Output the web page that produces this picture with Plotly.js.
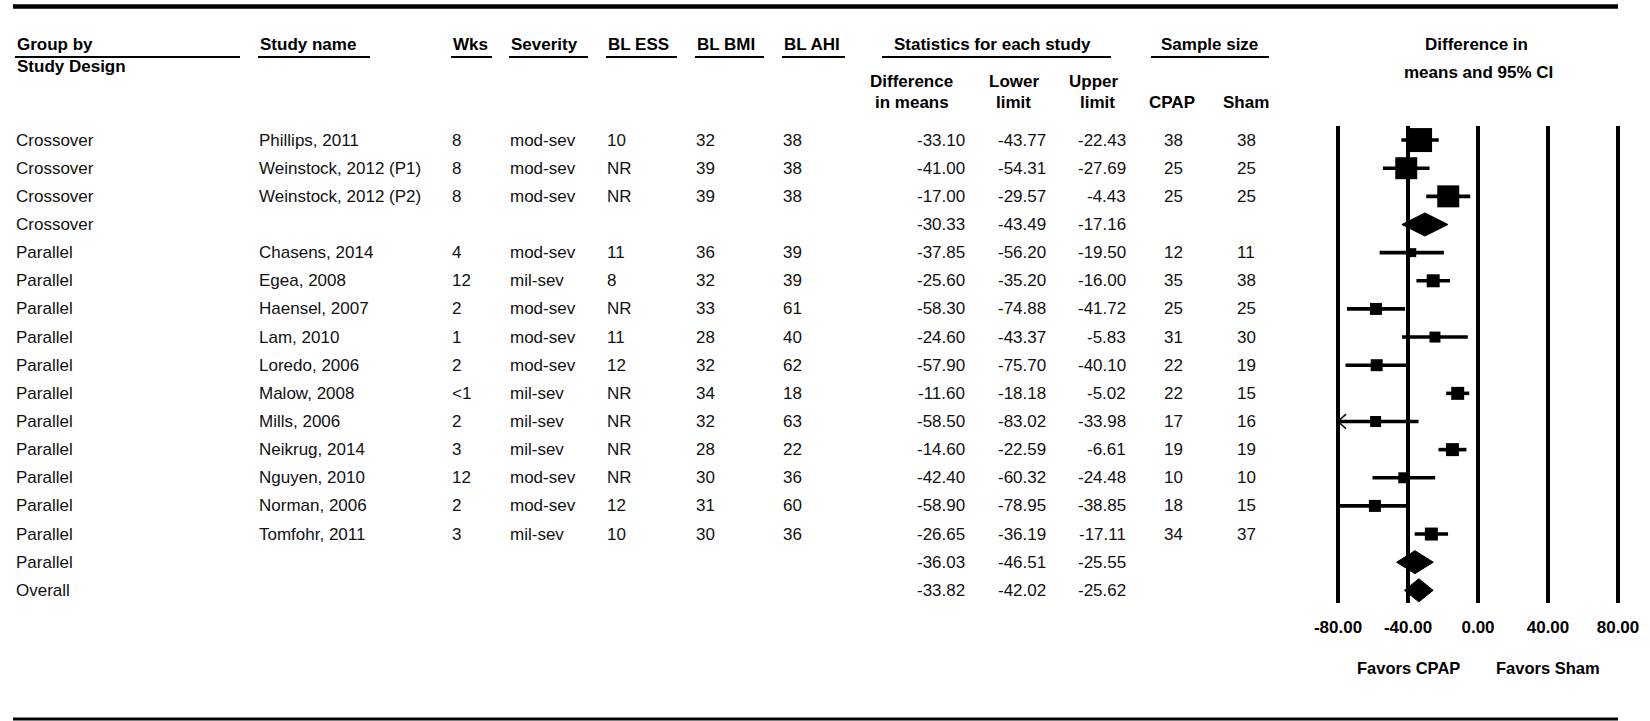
<!DOCTYPE html>
<html>
<head>
<meta charset="utf-8">
<script src="https://cdn.plot.ly/plotly-3.0.1.min.js"></script>
<style>html,body{margin:0;padding:0;background:#fff;}#chart{width:1650px;height:721px;}</style>
</head>
<body>
<div id="chart"></div>
<script>
// ---------- data ----------
const groups = ['Crossover','Crossover','Crossover','Crossover','Parallel','Parallel','Parallel','Parallel','Parallel','Parallel','Parallel','Parallel','Parallel','Parallel','Parallel','Parallel','Overall'];
const studies = ['Phillips, 2011','Weinstock, 2012 (P1)','Weinstock, 2012 (P2)','','Chasens, 2014','Egea, 2008','Haensel, 2007','Lam, 2010','Loredo, 2006','Malow, 2008','Mills, 2006','Neikrug, 2014','Nguyen, 2010','Norman, 2006','Tomfohr, 2011','',''];
const isSummary = [false,false,false,true,false,false,false,false,false,false,false,false,false,false,false,true,true];
const wks = ['8','8','8','','4','12','2','1','2','<1','2','3','12','2','3','',''];
const severity = ['mod-sev','mod-sev','mod-sev','','mod-sev','mil-sev','mod-sev','mod-sev','mod-sev','mil-sev','mil-sev','mil-sev','mod-sev','mod-sev','mil-sev','',''];
const blESS = ['10','NR','NR','','11','8','NR','11','12','NR','NR','NR','NR','12','10','',''];
const blBMI = ['32','39','39','','36','32','33','28','32','34','32','28','30','31','30','',''];
const blAHI = ['38','38','38','','39','39','61','40','62','18','63','22','36','60','36','',''];
const diffMeans = [-33.10,-41.00,-17.00,-30.33,-37.85,-25.60,-58.30,-24.60,-57.90,-11.60,-58.50,-14.60,-42.40,-58.90,-26.65,-36.03,-33.82];
const lowerLimit = [-43.77,-54.31,-29.57,-43.49,-56.20,-35.20,-74.88,-43.37,-75.70,-18.18,-83.02,-22.59,-60.32,-78.95,-36.19,-46.51,-42.02];
const upperLimit = [-22.43,-27.69,-4.43,-17.16,-19.50,-16.00,-41.72,-5.83,-40.10,-5.02,-33.98,-6.61,-24.48,-38.85,-17.11,-25.55,-25.62];
const nCPAP = ['38','25','25','','12','35','25','31','22','22','17','19','10','18','34','',''];
const nSham = ['38','25','25','','11','38','25','30','19','15','16','19','10','15','37','',''];
// relative weights (%) within subgroup, estimated from square areas
const weights = [37.3,31.3,31.3,null,5.2,10.9,9.3,7.8,9.3,10.9,7.8,10.9,7.8,9.3,10.9,null,null];
const tickVals = [-80,-40,0,40,80];
const tickLabels = ['-80.00','-40.00','0.00','40.00','80.00'];
const favorLabels = ['Favors CPAP','Favors Sham'];
const favorAt = [-40,40];

// ---------- layout helpers ----------
const W = 1650, H = 721;
const FONT = 'Liberation Sans, Arial, sans-serif';
const px = x => x / W;
const py = y => 1 - y / H;
const xMin = tickVals[0], xMax = tickVals[tickVals.length - 1];
const pad = 4.57;
const nRows = groups.length;

const annotations = [];
function txt(x, y, text, anchor, opts) {
  opts = opts || {};
  annotations.push({
    xref: opts.xref || 'paper', yref: opts.yref || 'paper',
    x: x, y: y, text: text, showarrow: false,
    xanchor: anchor, yanchor: 'middle',
    font: {family: FONT, size: opts.size || 17, color: opts.color || '#111'}
  });
}

// headers
const hdr = [
  [15, 45, 'Group by', 'left'], [15, 67, 'Study Design', 'left'],
  [258, 45, 'Study name', 'left'], [451, 45, 'Wks', 'left'],
  [509, 45, 'Severity', 'left'], [606, 45, 'BL ESS', 'left'],
  [695, 45, 'BL BMI', 'left'], [782, 45, 'BL AHI', 'left'],
  [892, 45, 'Statistics for each study', 'left'],
  [1209, 45, 'Sample size', 'center'],
  [911, 82, 'Difference', 'center'], [912, 103, 'in means', 'center'],
  [1014, 82, 'Lower', 'center'], [1014, 103, 'limit', 'center'],
  [1094, 82, 'Upper', 'center'], [1097, 103, 'limit', 'center'],
  [1172, 103, 'CPAP', 'center'], [1246, 103, 'Sham', 'center'],
  [1476, 45, 'Difference in', 'center'], [1478, 73, 'means and 95% CI', 'center']
];
hdr.forEach(h => txt(px(h[0]), py(h[1]), '<b>' + h[2] + '</b>', h[3], {color: '#000'}));

// table rows
for (let i = 0; i < nRows; i++) {
  const o = {yref: 'y'};
  txt(px(14), i, groups[i], 'left', o);
  if (studies[i]) txt(px(257), i, studies[i], 'left', o);
  if (wks[i]) txt(px(450), i, wks[i], 'left', o);
  if (severity[i]) txt(px(508), i, severity[i], 'left', o);
  if (blESS[i]) txt(px(605), i, blESS[i], 'left', o);
  if (blBMI[i]) txt(px(694), i, blBMI[i], 'left', o);
  if (blAHI[i]) txt(px(781), i, blAHI[i], 'left', o);
  txt(px(967), i, diffMeans[i].toFixed(2), 'right', o);
  txt(px(1048), i, lowerLimit[i].toFixed(2), 'right', o);
  txt(px(1128), i, upperLimit[i].toFixed(2), 'right', o);
  if (nCPAP[i]) txt(px(1173), i, nCPAP[i], 'center', o);
  if (nSham[i]) txt(px(1246), i, nSham[i], 'center', o);
}

// favors labels, tied to the axis
favorLabels.forEach((t, k) => txt(favorAt[k], py(668), '<b>' + t + '</b>', 'center', {xref: 'x', size: 16.5, color: '#000'}));

// ---------- shapes: rules ----------
const shapes = [];
function hline(x0, x1, y, w) {
  shapes.push({type: 'line', xref: 'paper', yref: 'paper', x0: px(x0), x1: px(x1), y0: py(y), y1: py(y), line: {color: '#000', width: w}});
}
hline(13, 1618, 6.5, 4.5);
hline(13, 1618, 719, 3);
[[15, 240], [258, 370], [451, 492], [509, 588], [606, 677], [695, 764], [782, 845], [882, 1111], [1151, 1269]]
  .forEach(u => hline(u[0], u[1], 57, 2));

// ---------- traces ----------
const traces = [];
const sx = [], sy = [], ss = [], ePlus = [], eMinus = [];
const arrows = [];
for (let i = 0; i < nRows; i++) {
  if (isSummary[i]) continue;
  const lo = Math.max(lowerLimit[i], xMin), hi = Math.min(upperLimit[i], xMax);
  sx.push(diffMeans[i]); sy.push(i);
  ss.push(3.93 * Math.sqrt(weights[i]));
  ePlus.push(hi - diffMeans[i]); eMinus.push(diffMeans[i] - lo);
  if (lowerLimit[i] < xMin) arrows.push(i);
}
traces.push({
  type: 'scatter', mode: 'markers', x: sx, y: sy, cliponaxis: false, hoverinfo: 'skip',
  marker: {symbol: 'square', size: ss, color: '#000', opacity: 1, line: {width: 0}},
  error_x: {type: 'data', symmetric: false, array: ePlus, arrayminus: eMinus, width: 0, thickness: 3.6, color: '#000'}
});
// clipped-CI arrow heads
arrows.forEach(i => {
  const a = 4.6, b = 0.26;
  traces.push({type: 'scatter', mode: 'lines', x: [xMin + a, xMin, xMin + a], y: [i - b, i, i + b],
    line: {color: '#000', width: 1.5}, cliponaxis: false, hoverinfo: 'skip'});
});
// summary diamonds
for (let i = 0; i < nRows; i++) {
  if (!isSummary[i]) continue;
  const h = 0.41;
  traces.push({type: 'scatter', mode: 'lines', fill: 'toself', fillcolor: '#000',
    x: [lowerLimit[i], diffMeans[i], upperLimit[i], diffMeans[i], lowerLimit[i]],
    y: [i, i - h, i, i + h, i], line: {color: '#000', width: 1}, cliponaxis: false, hoverinfo: 'skip'});
}

const layout = {
  width: W, height: H,
  margin: {l: 0, r: 0, t: 0, b: 0},
  paper_bgcolor: '#fff', plot_bgcolor: '#fff',
  showlegend: false,
  xaxis: {
    domain: [px(1330), px(1626)], range: [xMin - pad, xMax + pad],
    tickmode: 'array', tickvals: tickVals, ticktext: tickLabels.map(t => '<b>' + t + '</b>'),
    showgrid: true, gridcolor: '#000', gridwidth: 3.2, zeroline: false, showline: false,
    ticks: '', ticklabelstandoff: 12,
    tickfont: {family: FONT, size: 17, color: '#000'}, fixedrange: true
  },
  yaxis: {
    domain: [py(603), py(126)], range: [16.45, -0.5],
    showgrid: false, zeroline: false, showticklabels: false, ticks: '', showline: false, fixedrange: true
  },
  annotations: annotations,
  shapes: shapes
};

Plotly.newPlot('chart', traces, layout, {displayModeBar: false, staticPlot: true});
</script>
</body>
</html>
